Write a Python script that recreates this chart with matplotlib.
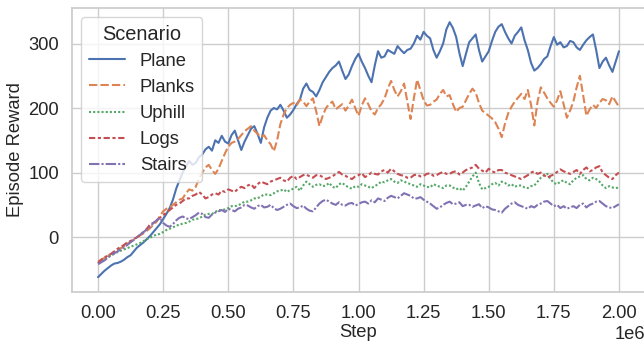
import numpy as np
import pandas as pd
import seaborn as sns
import matplotlib
matplotlib.use("Agg")
import matplotlib.pyplot as plt

# rewards read every 12.5k steps, 0 .. 2e6
plane = [-62, -57, -52, -48, -44, -41, -40, -38, -35, -31, -28, -22, -16, -12, -8, -3, 2, 8, 14, 20,
         28, 36, 45, 58, 75, 88, 100, 110, 118, 112, 115, 124, 128, 136, 140, 134, 150, 146, 157, 148,
         145, 158, 165, 150, 135, 148, 158, 168, 172, 160, 146, 170, 185, 196, 200, 198, 205, 196, 185, 190,
         197, 206, 213, 230, 238, 228, 225, 218, 228, 240, 248, 256, 262, 266, 272, 258, 245, 252, 265, 276,
         284, 272, 262, 250, 240, 266, 288, 278, 280, 290, 287, 284, 296, 290, 285, 290, 292, 300, 312, 306,
         318, 312, 308, 290, 278, 288, 300, 322, 333, 324, 310, 285, 265, 284, 302, 308, 314, 290, 272, 280,
         288, 304, 318, 326, 330, 318, 308, 300, 312, 318, 325, 305, 290, 270, 258, 262, 268, 276, 280, 296,
         310, 298, 302, 294, 296, 304, 302, 294, 290, 298, 305, 310, 314, 290, 262, 272, 278, 266, 256, 272,
         288]

planks = [-38, -35, -32, -29, -26, -23, -20, -17, -14, -10, -7, -4, 0, 3, 6, 10, 14, 19, 24, 33,
          40, 44, 46, 50, 54, 58, 60, 68, 74, 72, 78, 90, 100, 108, 112, 104, 98, 106, 118, 130,
          140, 146, 148, 152, 158, 164, 168, 172, 165, 160, 155, 158, 150, 144, 133, 150, 175, 190, 200, 205,
          208, 204, 213, 210, 203, 210, 215, 195, 172, 188, 200, 206, 210, 198, 202, 206, 196, 204, 213, 200,
          188, 204, 215, 206, 195, 190, 200, 206, 215, 230, 242, 228, 218, 226, 238, 210, 183, 215, 244, 228,
          212, 204, 205, 210, 213, 222, 228, 218, 220, 206, 194, 200, 202, 212, 222, 230, 224, 208, 196, 192,
          188, 184, 178, 168, 155, 176, 192, 202, 210, 216, 222, 214, 228, 205, 173, 210, 232, 224, 215, 208,
          202, 212, 226, 206, 185, 196, 210, 232, 250, 220, 188, 198, 205, 200, 208, 214, 212, 206, 218, 210,
          202]

uphill = [-40, -37, -34, -31, -28, -26, -23, -21, -19, -17, -15, -13, -11, -9, -6, -3, -1, 2, 4, 5,
          8, 11, 13, 15, 18, 19, 21, 22, 24, 27, 28, 29, 32, 35, 36, 36, 39, 42, 42, 43,
          45, 48, 48, 49, 52, 55, 55, 57, 60, 60, 63, 66, 66, 65, 68, 71, 72, 74, 70, 73,
          75, 78, 72, 80, 86, 82, 78, 81, 82, 79, 80, 84, 78, 76, 82, 84, 80, 77, 75, 79,
          78, 82, 80, 78, 76, 79, 82, 86, 85, 88, 90, 86, 84, 88, 86, 84, 82, 80, 78, 82,
          80, 78, 77, 82, 80, 78, 76, 80, 80, 77, 74, 76, 72, 78, 86, 94, 100, 84, 74, 76,
          78, 82, 84, 80, 86, 84, 80, 82, 78, 80, 80, 77, 76, 79, 80, 86, 92, 96, 98, 90,
          84, 82, 86, 88, 84, 82, 88, 92, 94, 96, 90, 88, 92, 90, 86, 80, 76, 79, 77, 76,
          77]

logs = [-40, -35, -31, -29, -26, -22, -18, -15, -12, -8, -6, -3, 0, 4, 8, 13, 20, 22, 26, 30,
        34, 38, 42, 46, 50, 52, 56, 60, 60, 64, 66, 70, 66, 60, 62, 66, 68, 66, 72, 70,
        74, 72, 70, 75, 78, 76, 80, 82, 76, 82, 86, 84, 82, 86, 88, 90, 92, 88, 86, 92,
        95, 90, 93, 96, 97, 94, 92, 96, 96, 93, 90, 92, 94, 98, 101, 97, 95, 92, 90, 94,
        96, 99, 93, 96, 100, 98, 97, 102, 104, 100, 106, 102, 98, 96, 95, 92, 92, 96, 97, 94,
        95, 98, 99, 95, 96, 99, 101, 98, 98, 101, 102, 97, 100, 104, 106, 108, 112, 106, 103, 100,
        106, 102, 100, 104, 104, 100, 98, 96, 94, 92, 90, 93, 96, 100, 102, 98, 100, 96, 92, 95,
        97, 101, 105, 102, 100, 98, 101, 104, 98, 104, 108, 102, 104, 108, 110, 100, 96, 92, 90, 96,
        100]

stairs = [-42, -39, -36, -32, -28, -25, -22, -19, -16, -12, -8, -4, 0, 4, 8, 12, 16, 22, 26, 30,
          22, 18, 16, 20, 26, 30, 32, 29, 28, 31, 34, 38, 36, 31, 30, 35, 38, 40, 42, 39,
          44, 42, 40, 44, 46, 50, 49, 46, 44, 48, 50, 46, 47, 50, 45, 42, 44, 47, 50, 52,
          48, 45, 46, 49, 44, 41, 40, 46, 52, 56, 58, 55, 52, 50, 54, 50, 49, 52, 53, 49,
          51, 54, 55, 52, 57, 54, 60, 58, 56, 61, 64, 62, 60, 64, 68, 66, 64, 60, 60, 62,
          58, 55, 52, 48, 44, 46, 50, 53, 55, 51, 52, 54, 48, 50, 50, 47, 49, 51, 45, 48,
          46, 43, 42, 40, 38, 44, 48, 52, 54, 50, 48, 46, 44, 48, 46, 50, 52, 55, 56, 52,
          48, 50, 45, 48, 44, 46, 48, 45, 50, 52, 46, 50, 52, 55, 56, 52, 48, 46, 45, 48,
          51]

scenarios = ["Plane", "Planks", "Uphill", "Logs", "Stairs"]
series = [plane, planks, uphill, logs, stairs]
steps = [i * 12500 for i in range(len(plane))]

rows = []
for name, vals in zip(scenarios, series):
    assert len(vals) == len(steps), name
    for s, v in zip(steps, vals):
        rows.append({"Step": s, "Episode Reward": v, "Scenario": name})
df = pd.DataFrame(rows)

sns.set_theme(style="whitegrid", font_scale=1.2)
plt.rcParams['font.family'] = ['Liberation Sans', 'DejaVu Sans']

fig = plt.figure(figsize=(6.44, 3.43), dpi=100)
ax = fig.add_axes([72 / 644, 51 / 343, 573 / 644, 284 / 343])

sns.lineplot(data=df, x="Step", y="Episode Reward", hue="Scenario",
             style="Scenario", hue_order=scenarios, style_order=scenarios, ax=ax)

ax.set_xlim(-0.1e6, 2.1e6)
ax.set_ylim(-85, 355)
ax.set_yticks([0, 100, 200, 300])
ax.set_xlabel("Step", fontsize=13.2, labelpad=1)
ax.set_ylabel("Episode Reward", fontsize=13.2, labelpad=3)
ax.legend(title="Scenario", loc="upper left", fontsize=13.2, title_fontsize=14.4)

fig.savefig("out.png", dpi=100)
